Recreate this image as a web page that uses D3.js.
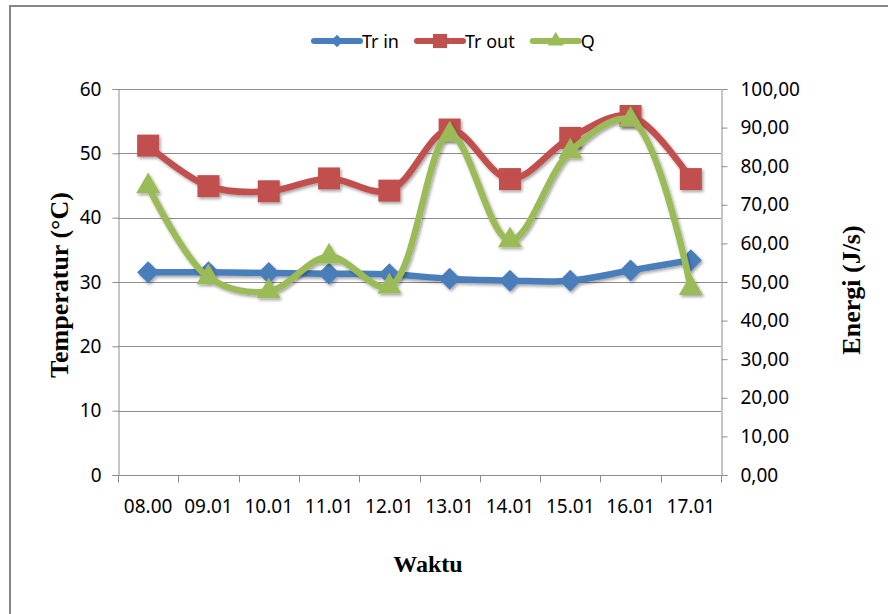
<!DOCTYPE html>
<html lang="en">
<head>
<meta charset="UTF-8">
<script src="https://d3js.org/d3.v7.min.js"></script>
<title>Temperatur dan Energi</title>
<style>
  body { margin: 0; background: #fff; }
  svg text { fill: #000; }
</style>
</head>
<body>
<div id="chart"></div>
<script>
    const width = 888;
    const height = 614;

    // Data
    const waktu = ['08.00', '09.01', '10.01', '11.01', '12.01', '13.01', '14.01', '15.01', '16.01', '17.01'];
    const trIn = [31.5, 31.5, 31.4, 31.3, 31.2, 30.5, 30.2, 30.2, 31.8, 33.4];
    const trOut = [51.2, 44.9, 44.1, 46.1, 44.2, 53.7, 46.0, 52.4, 55.8, 46.0];
    const q = [74.8, 51.2, 47.6, 56.6, 48.8, 88.2, 60.8, 83.8, 92.0, 48.4];
    const leftTicks = [0, 10, 20, 30, 40, 50, 60];
    const rightTicks = [0, 10, 20, 30, 40, 50, 60, 70, 80, 90, 100];

    const margin = { left: 118, right: 721, top: 89, bottom: 475 };

    const svg = d3.select('#chart')
        .append('svg')
        .attr('width', width)
        .attr('height', height);

    // drop shadow like the Excel effect
    const defs = svg.append('defs');
    defs.append('filter')
        .attr('id', 'shadow')
        .attr('x', '-20%').attr('y', '-20%')
        .attr('width', '140%').attr('height', '140%')
        .append('feDropShadow')
        .attr('dx', 1.5).attr('dy', 2)
        .attr('stdDeviation', 1.5)
        .attr('flood-color', '#000')
        .attr('flood-opacity', 0.35);

    // outer chart frame
    svg.append('rect')
        .attr('x', 10).attr('y', 6)
        .attr('width', 900).attr('height', 620)
        .attr('fill', 'none')
        .attr('stroke', '#868686')
        .attr('stroke-width', 2);

    // scales
    const x = d3.scaleBand()
        .domain(waktu)
        .range([margin.left, margin.right])
        .padding(0);
    const yLeft = d3.scaleLinear()
        .domain([0, 60])
        .range([margin.bottom, margin.top]);
    const yRight = d3.scaleLinear()
        .domain([0, 100])
        .range([margin.bottom, margin.top]);
    const cx = d => x(d) + x.bandwidth() / 2;

    const tickFont = '"Noto Sans", "Open Sans", sans-serif';

    // gridlines
    svg.append('g')
        .selectAll('line')
        .data(leftTicks.filter(d => d > 0))
        .join('line')
        .attr('x1', margin.left)
        .attr('x2', margin.right)
        .attr('y1', d => Math.round(yLeft(d)) + 0.5)
        .attr('y2', d => Math.round(yLeft(d)) + 0.5)
        .attr('stroke', '#8c8c8c')
        .attr('stroke-width', 1);

    // left axis
    const leftAxis = svg.append('g')
        .attr('transform', `translate(${margin.left + 0.5},0)`)
        .call(d3.axisLeft(yLeft).tickValues(leftTicks).tickSize(6).tickPadding(11));

    // right axis
    const rightAxis = svg.append('g')
        .attr('transform', `translate(${margin.right + 0.5},0)`)
        .call(d3.axisRight(yRight).tickValues(rightTicks).tickSize(6).tickPadding(13)
            .tickFormat(d => d3.format('.2f')(d).replace('.', ',')));

    // bottom axis: labels centred, ticks at band edges
    const bottomAxis = svg.append('g')
        .attr('transform', `translate(0,${margin.bottom + 0.5})`)
        .call(d3.axisBottom(x).tickSize(0).tickPadding(24));
    bottomAxis.selectAll('.edge')
        .data(waktu.concat(['end']))
        .join('line')
        .attr('class', 'edge')
        .attr('x1', (d, i) => Math.round(margin.left + i * x.bandwidth()) + 0.5)
        .attr('x2', (d, i) => Math.round(margin.left + i * x.bandwidth()) + 0.5)
        .attr('y1', 0)
        .attr('y2', 7)
        .attr('stroke', '#8c8c8c');

    [leftAxis, rightAxis, bottomAxis].forEach(g => {
        g.select('.domain').attr('stroke', '#8c8c8c');
        g.selectAll('.tick line').attr('stroke', '#8c8c8c');
        g.selectAll('text')
            .attr('font-family', tickFont)
            .attr('font-size', 19)
            .attr('fill', '#222');
    });
    bottomAxis.select('.domain').attr('d', `M${margin.left},0H${margin.right}`);

    // axis titles
    const titleFont = '"Liberation Serif", "Times New Roman", serif';
    svg.append('text')
        .attr('transform', `translate(68,285) rotate(-90)`)
        .attr('text-anchor', 'middle')
        .attr('font-family', titleFont)
        .attr('font-weight', 'bold')
        .attr('font-size', 26)
        .text('Temperatur (°C)');

    svg.append('text')
        .attr('transform', `translate(860,290) rotate(-90)`)
        .attr('text-anchor', 'middle')
        .attr('font-family', titleFont)
        .attr('font-weight', 'bold')
        .attr('font-size', 26)
        .text('Energi (J/s)');

    svg.append('text')
        .attr('x', 428)
        .attr('y', 572)
        .attr('text-anchor', 'middle')
        .attr('font-family', titleFont)
        .attr('font-weight', 'bold')
        .attr('font-size', 24)
        .text('Waktu');

    // square rotated 45 degrees, area = size
    const diamond = {
        draw(ctx, size) {
            const r = Math.sqrt(size / 2);
            ctx.moveTo(0, -r);
            ctx.lineTo(r, 0);
            ctx.lineTo(0, r);
            ctx.lineTo(-r, 0);
            ctx.closePath();
        }
    };

    // series
    const series = [
        { name: 'Tr in', values: trIn, scale: yLeft, color: '#4a7ebb', marker: diamond, size: 242, legendSize: 80 },
        { name: 'Tr out', values: trOut, scale: yLeft, color: '#c0504d', marker: d3.symbolSquare, size: 484, legendSize: 200 },
        { name: 'Q', values: q, scale: yRight, color: '#9bbb59', marker: d3.symbolTriangle, size: 250, legendSize: 110 }
    ];

    const line = d3.line().curve(d3.curveCatmullRom.alpha(0.5));

    series.forEach(s => {
        const pts = waktu.map((w, i) => [cx(w), s.scale(s.values[i])]);
        const g = svg.append('g').attr('filter', 'url(#shadow)');
        g.append('path')
            .attr('d', line(pts))
            .attr('fill', 'none')
            .attr('stroke', s.color)
            .attr('stroke-width', 6.5)
            .attr('stroke-linejoin', 'round')
            .attr('stroke-linecap', 'round');
        g.selectAll('path.mk')
            .data(pts)
            .join('path')
            .attr('class', 'mk')
            .attr('transform', d => `translate(${d[0]},${d[1]})`)
            .attr('d', d3.symbol().type(s.marker).size(s.size))
            .attr('fill', s.color);
    });

    // legend
    const legend = svg.append('g').attr('transform', 'translate(312,41)');
    let lx = 0;
    series.forEach(s => {
        const item = legend.append('g').attr('transform', `translate(${lx},0)`);
        item.append('line')
            .attr('x1', 2).attr('x2', 48)
            .attr('stroke', s.color)
            .attr('stroke-width', 6)
            .attr('stroke-linecap', 'round');
        item.append('path')
            .attr('transform', 'translate(25,0)')
            .attr('d', d3.symbol().type(s.marker).size(s.legendSize))
            .attr('fill', s.color);
        const t = item.append('text')
            .attr('x', 50)
            .attr('y', 6.5)
            .attr('font-family', tickFont)
            .attr('font-size', 18)
            .attr('fill', '#222')
            .text(s.name);
        lx += 50 + t.node().getComputedTextLength() + 16;
    });
</script>
</body>
</html>
